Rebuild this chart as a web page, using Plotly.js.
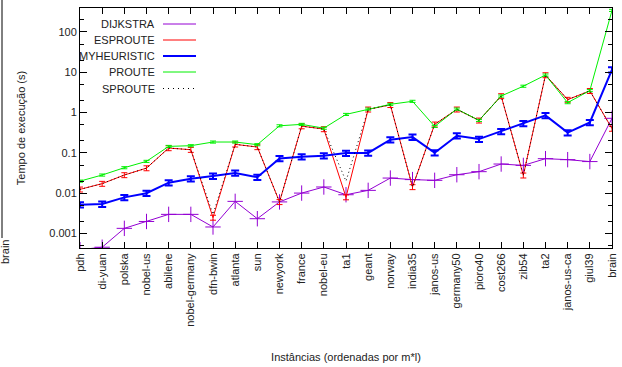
<!DOCTYPE html>
<html><head><meta charset="utf-8">
<script src="https://cdn.plot.ly/plotly-3.0.1.min.js"></script>
<style>html,body{margin:0;padding:0;background:#fff}#chart{width:622px;height:367px}</style>
</head><body><div id="chart"></div>
<script>
const categories = ["pdh","di-yuan","polska","nobel-us","abilene","nobel-germany","dfn-bwin","atlanta","sun","newyork","france","nobel-eu","ta1","geant","norway","india35","janos-us","germany50","pioro40","cost266","zib54","ta2","janos-us-ca","giul39","brain"];
const dijkstra    = [0.0004,0.00046,0.00135,0.0020,0.0030,0.0030,0.00146,0.0063,0.00234,0.0061,0.0101,0.0143,0.0092,0.0118,0.0238,0.0218,0.0209,0.0288,0.0343,0.053,0.049,0.072,0.068,0.061,0.72];
const esproute    = [0.0125,0.0173,0.0283,0.042,0.132,0.12,0.0025,0.163,0.14,0.0061,0.46,0.39,0.008,1.2,1.55,0.0143,0.51,1.2,0.64,2.57,0.0278,8.5,2.09,3.45,0.4];
const myheuristic = [0.0052,0.0054,0.0079,0.010,0.0183,0.023,0.0267,0.0318,0.025,0.073,0.0806,0.0855,0.099,0.10,0.213,0.247,0.101,0.267,0.22,0.342,0.54,0.85,0.318,0.57,11.6];
const proute      = [0.020,0.0283,0.043,0.0618,0.145,0.151,0.186,0.186,0.16,0.47,0.51,0.41,0.90,1.22,1.6,1.9,0.455,1.22,0.64,2.57,4.5,8.5,1.76,3.5,341];
const sproute     = [0.0125,0.0173,0.0283,0.042,0.132,0.12,0.003,0.163,0.14,0.0061,0.46,0.39,0.02,1.2,1.55,0.0143,0.51,1.2,0.64,2.57,0.0278,8.5,2.09,3.45,0.4];
const seriesNames = ["DIJKSTRA","ESPROUTE","MYHEURISTIC","PROUTE","SPROUTE"];
const yTickVals = [0.001,0.01,0.1,1,10,100];
const yTickText = ["0.001","0.01","0.1","1","10","100"];

const colors = ["#9400d3","#ff0000","#0000ff","#00f000","#000000"];
const font = "Liberation Sans, Arial, sans-serif";
const txtColor = '#222';

function err(pct, w, th, c){ return {type:'percent', value:pct, width:w, thickness:th, color:c}; }

const traces = [
  {x:categories, y:dijkstra, name:seriesNames[0], mode:'lines+markers', line:{color:colors[0], width:1},
   marker:{symbol:'cross-thin-open', size:11, line:{color:colors[0], width:1}, color:colors[0]}},
  {x:categories, y:esproute, name:seriesNames[1], mode:'lines', line:{color:colors[1], width:1}, error_y:err(14,3,1,colors[1])},
  {x:categories, y:myheuristic, name:seriesNames[2], mode:'lines', line:{color:colors[2], width:2}, error_y:err(15,4,2,colors[2])},
  {x:categories, y:proute, name:seriesNames[3], mode:'lines', line:{color:colors[3], width:1}, error_y:err(6,3,1,colors[3])},
  {x:categories, y:sproute, name:seriesNames[4], mode:'lines', line:{color:colors[4], width:1, dash:'1px,3px'}},
];

// legend drawn gnuplot-style: text right-aligned, sample to the right
const legendY = [24,40,56,72,88.5];
const annotations = [];
const shapes = [];
const H = 367, W = 622, L = 80, R = 10, T = 8, B = 119;
const pw = W-L-R, ph = H-T-B;
function px(x){ return (x-L)/pw; }
function py(y){ return 1-(y-T)/ph; }
seriesNames.forEach((n,i)=>{
  annotations.push({xref:'paper', yref:'paper', x:px(157), y:py(legendY[i]), xanchor:'right', yanchor:'middle',
    text:n, showarrow:false, font:{family:font, size:11, color:txtColor}});
  shapes.push({type:'line', xref:'paper', yref:'paper', x0:px(163), x1:px(196), y0:py(legendY[i]), y1:py(legendY[i]),
    line:{color:colors[i], width: i===2?2:1, dash: i===4?'1px,4px':'solid'}});
});
// remnant of neighbouring chart at left edge
shapes.push({type:'line', xref:'paper', yref:'paper', x0:px(2), x1:px(2), y0:py(0), y1:py(238), line:{color:'#000', width:1}});
annotations.push({xref:'paper', yref:'paper', x:px(5), y:py(238), xanchor:'center', yanchor:'top', textangle:-90,
  text:'brain', showarrow:false, font:{family:font, size:11, color:txtColor}});

const layout = {
  width:W, height:H, margin:{l:L, r:R, t:T, b:B}, paper_bgcolor:'#fff', plot_bgcolor:'#fff',
  showlegend:false, font:{family:font, size:11, color:txtColor},
  xaxis:{type:'category', range:[0,24], tickangle:-90, ticks:'inside', ticklen:6, tickcolor:'#000',
    showline:true, linecolor:'#000', linewidth:1, mirror:'ticks', showgrid:false, zeroline:false,
    tickfont:{family:font, size:11, color:txtColor},
    title:{text:'Instâncias (ordenadas por m*l)', font:{family:font, size:11, color:txtColor}, standoff:27}},
  yaxis:{type:'log', range:[Math.log10(0.00044), Math.log10(390)], tickmode:'array', tickvals:yTickVals, ticktext:yTickText,
    ticks:'inside', ticklen:7, tickcolor:'#000', showline:true, linecolor:'#000', linewidth:1, mirror:'ticks',
    showgrid:false, zeroline:false, tickfont:{family:font, size:11, color:txtColor},
    minor:{tickmode:'array', tickvals:[0.0005,0.002,0.005,0.02,0.05,0.2,0.5,2,5,20,50,200], ticks:'inside', ticklen:4, tickcolor:'#000', showgrid:false},
    title:{text:'Tempo de execução (s)', font:{family:font, size:11, color:txtColor}, standoff:21}},
  annotations:annotations, shapes:shapes
};
Plotly.newPlot('chart', traces, layout, {staticPlot:true, displayModeBar:false});
</script></body></html>
